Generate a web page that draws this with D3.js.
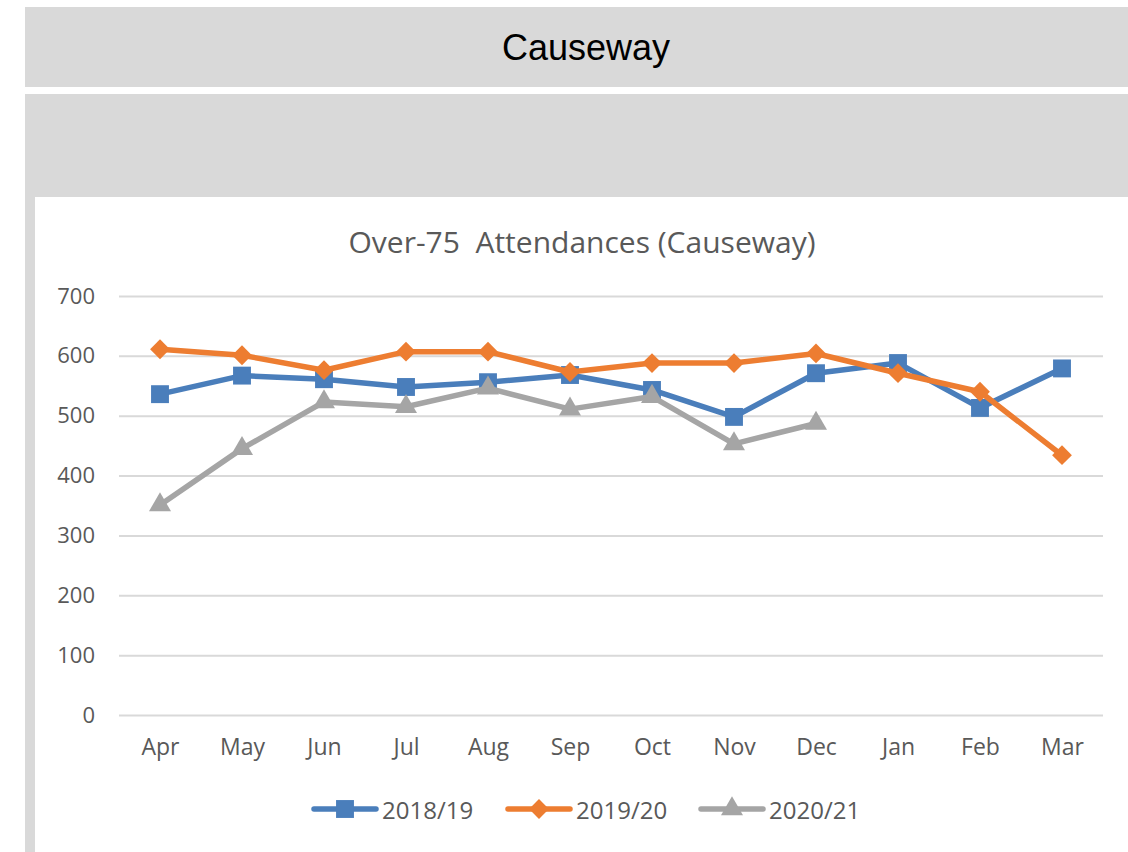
<!DOCTYPE html>
<html>
<head>
<meta charset="utf-8">
<script src="https://cdn.jsdelivr.net/npm/d3@7"></script>
<style>
  html, body { margin: 0; padding: 0; background: #ffffff; }
  svg { display: block; }
</style>
</head>
<body>
<svg id="chart" width="1128" height="852"></svg>
<script>
// Monthly over-75 attendances, financial year April–March
const months = ["Apr", "May", "Jun", "Jul", "Aug", "Sep", "Oct", "Nov", "Dec", "Jan", "Feb", "Mar"];
const fy1819 = [536, 567, 561, 548, 556, 568, 543, 498, 571, 588, 513, 579];
const fy1920 = [611, 601, 576, 607, 607, 573, 588, 588, 604, 571, 540, 434];
const fy2021 = [351, 445, 523, 515, 546, 511, 532, 453, 487];
const seriesNames = ["2018/19", "2019/20", "2020/21"];
const yTicks = [0, 100, 200, 300, 400, 500, 600, 700];

const svg = d3.select("#chart");
const W = 1128, H = 852;
const axisFont = "'Open Sans', 'Liberation Sans', sans-serif";
const textGrey = "#595959";

// page panels
svg.append("rect").attr("x", 25).attr("y", 7).attr("width", W - 25).attr("height", 80).attr("fill", "#d9d9d9");
svg.append("rect").attr("x", 25).attr("y", 94).attr("width", W - 25).attr("height", H - 94).attr("fill", "#d9d9d9");
svg.append("rect").attr("x", 35).attr("y", 197).attr("width", W - 35).attr("height", H - 197).attr("fill", "#ffffff");

svg.append("text")
  .attr("x", 586).attr("y", 47)
  .attr("text-anchor", "middle").attr("dominant-baseline", "central")
  .attr("font-family", "'Liberation Sans', Arial, sans-serif")
  .attr("font-size", 36).attr("fill", "#000")
  .text("Causeway");

// chart title
svg.append("text")
  .attr("x", 582).attr("y", 241)
  .attr("text-anchor", "middle").attr("dominant-baseline", "central")
  .attr("font-family", axisFont).attr("font-size", 30).attr("fill", textGrey)
  .attr("xml:space", "preserve")
  .text("Over-75  Attendances (Causeway)");

const x = d3.scalePoint().domain(months).range([119, 1103]).padding(0.5);
const y = d3.scaleLinear().domain([0, 700]).range([715, 296]);

// gridlines + y labels
const yAxis = svg.append("g").attr("transform", "translate(119,0)")
  .call(d3.axisLeft(y).tickValues(yTicks).tickSize(-(1103 - 119)).tickPadding(24).tickFormat(d3.format("d")));
yAxis.select(".domain").remove();
yAxis.selectAll(".tick line").attr("stroke", "#d9d9d9").attr("stroke-width", 2);
yAxis.selectAll(".tick text").attr("font-family", axisFont).attr("font-size", 22).attr("fill", textGrey);

// x labels
const xAxis = svg.append("g").attr("transform", "translate(0,715)")
  .call(d3.axisBottom(x).tickSize(0).tickPadding(24));
xAxis.select(".domain").remove();
xAxis.selectAll(".tick text").attr("font-family", axisFont).attr("font-size", 23).attr("fill", textGrey);

const series = [
  { name: seriesNames[0], values: fy1819, color: "#4a7ebb", marker: d3.symbolSquare, size: 320 },
  { name: seriesNames[1], values: fy1920, color: "#ed7d31", marker: d3.symbolDiamond2, size: 250 },
  { name: seriesNames[2], values: fy2021, color: "#a5a5a5", marker: d3.symbolTriangle, size: 210 }
];

const line = d3.line().x((d, i) => x(months[i])).y(d => y(d));

series.forEach(s => {
  const g = svg.append("g");
  g.append("path").datum(s.values)
    .attr("d", line).attr("fill", "none")
    .attr("stroke", s.color).attr("stroke-width", 5.5)
    .attr("stroke-linejoin", "round").attr("stroke-linecap", "round");
  g.selectAll("path.mk").data(s.values).join("path")
    .attr("class", "mk")
    .attr("transform", (d, i) => `translate(${x(months[i])},${y(d)})`)
    .attr("d", d3.symbol().type(s.marker).size(s.size))
    .attr("fill", s.color);
});

// legend
const legendItems = [
  { x0: 314, tx: 382 },
  { x0: 508, tx: 576 },
  { x0: 701, tx: 769 }
];
const ly = 809;
series.forEach((s, i) => {
  const li = legendItems[i];
  const g = svg.append("g");
  g.append("line").attr("x1", li.x0).attr("x2", li.x0 + 62).attr("y1", ly).attr("y2", ly)
    .attr("stroke", s.color).attr("stroke-width", 5.5).attr("stroke-linecap", "round");
  g.append("path").attr("transform", `translate(${li.x0 + 31},${ly})`)
    .attr("d", d3.symbol().type(s.marker).size(s.size)).attr("fill", s.color);
  g.append("text").attr("x", li.tx).attr("y", ly).attr("dominant-baseline", "central")
    .attr("font-family", axisFont).attr("font-size", 24).attr("fill", textGrey)
    .text(s.name);
});
</script>
</body>
</html>
